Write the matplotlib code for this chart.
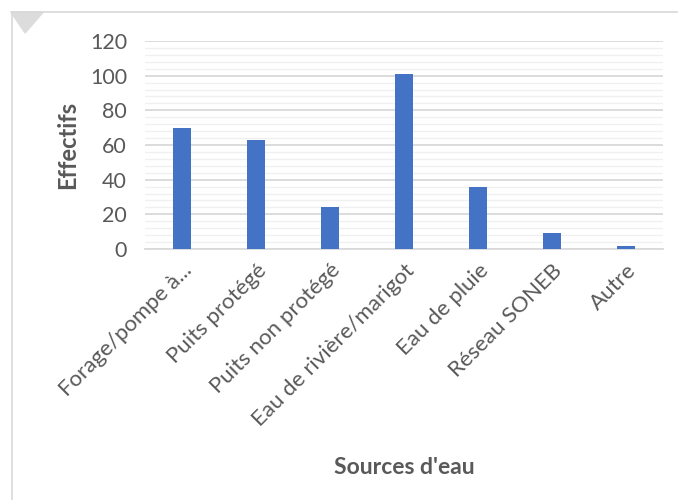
import matplotlib.pyplot as plt
from matplotlib.patches import Polygon
from matplotlib.lines import Line2D
from matplotlib.ticker import MultipleLocator

# valeurs
sources = ['Forage/pompe à...', 'Puits protégé', 'Puits non protégé',
           'Eau de rivière/marigot', 'Eau de pluie', 'Réseau SONEB', 'Autre']
effectifs = [70, 63, 24, 101, 36, 9, 2]

plt.rcParams['font.family'] = ['Lato', 'DejaVu Sans']
gray = '#595959'

fig = plt.figure(figsize=(6.78, 5.0), dpi=100)
ax = fig.add_axes([0.214, 0.502, 0.764, 0.416])

ax.bar(range(len(sources)), effectifs, width=0.25, color='#4472c4', zorder=3)

ax.set_xlim(-0.5, len(sources) - 0.5)
ax.set_ylim(0, 120)
ax.yaxis.set_major_locator(MultipleLocator(20))
ax.yaxis.set_minor_locator(MultipleLocator(4))
ax.grid(axis='y', which='major', color='#d9d9d9', linewidth=1.3, zorder=0)
ax.grid(axis='y', which='minor', color='#f0f0f0', linewidth=1.0, zorder=0)

for s in ['top', 'right', 'left']:
    ax.spines[s].set_visible(False)
ax.spines['bottom'].set_color('#d9d9d9')
ax.spines['bottom'].set_linewidth(1.3)
ax.tick_params(axis='both', which='both', length=0, colors=gray)
ax.tick_params(axis='y', labelsize=15.5, pad=13)

ax.set_xticks(range(len(sources)))
ax.set_xticklabels(sources, rotation=45, ha='right', rotation_mode='anchor',
                   fontsize=16, color=gray)
for lbl in ax.get_xticklabels():
    lbl.set_y(-0.03)

ax.set_ylabel('Effectifs', fontsize=17, fontweight='bold', color=gray, labelpad=8)
ax.set_xlabel("Sources d'eau", fontsize=16.5, fontweight='bold', color=gray, labelpad=20)

# cadre et coin de la capture
fig.add_artist(Line2D([0.018, 1.0], [0.976, 0.976], color='#d9d9d9', linewidth=1.2))
fig.add_artist(Line2D([0.018, 0.018], [0.0, 0.976], color='#d9d9d9', linewidth=1.2))
fig.add_artist(Polygon([[0.016, 0.976], [0.064, 0.976], [0.037, 0.934]],
                       closed=True, color='#dcdcdc', transform=fig.transFigure))

fig.savefig('out.png', dpi=100)
